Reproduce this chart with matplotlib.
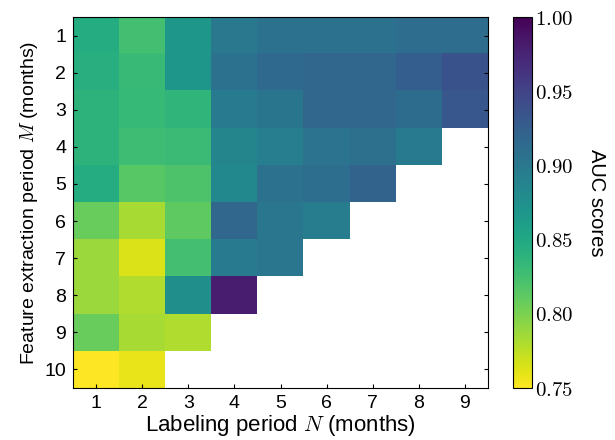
#!/usr/bin/env python3
import numpy as np
import matplotlib
matplotlib.use("Agg")
import matplotlib.pyplot as plt
from matplotlib.ticker import FuncFormatter

plt.rcParams['font.family'] = ['Liberation Sans', 'DejaVu Sans']
plt.rcParams['mathtext.fontset'] = 'cm'

# labeling period N (columns) and feature extraction period M (rows)
labelingN = [1, 2, 3, 4, 5, 6, 7, 8, 9]
featureM = [1, 2, 3, 4, 5, 6, 7, 8, 9, 10]

# AUC scores, one list per M (row), starting at N=1
auc_rows = [
    [0.845, 0.825, 0.868, 0.900, 0.907, 0.906, 0.906, 0.911, 0.911],
    [0.843, 0.832, 0.868, 0.907, 0.915, 0.917, 0.917, 0.925, 0.937],
    [0.838, 0.833, 0.836, 0.896, 0.903, 0.917, 0.917, 0.912, 0.932],
    [0.838, 0.828, 0.830, 0.886, 0.893, 0.905, 0.908, 0.897],
    [0.845, 0.815, 0.820, 0.883, 0.906, 0.910, 0.920],
    [0.808, 0.783, 0.812, 0.917, 0.902, 0.895],
    [0.788, 0.763, 0.825, 0.897, 0.902],
    [0.788, 0.780, 0.875, 0.980],
    [0.808, 0.783, 0.780],
    [0.750, 0.758],
]

def buildGrid(rows, ncols):
    grid = np.full((len(rows), ncols), np.nan)
    for i, row in enumerate(rows):
        grid[i, :len(row)] = row
    return np.ma.masked_invalid(grid)

def main():
    grid = buildGrid(auc_rows, len(labelingN))
    fig = plt.figure(figsize=(6.15, 4.4), dpi=100)
    ax = fig.add_axes([73/615, 1-388/440, 415/615, 371/440])
    cax = fig.add_axes([513/615, 1-388/440, 19/615, 371/440])

    im = ax.imshow(grid, cmap='viridis_r', vmin=0.75, vmax=1.0, aspect='auto',
                   interpolation='none',
                   extent=[labelingN[0]-0.5, labelingN[-1]+0.5,
                           featureM[-1]+0.5, featureM[0]-0.5])
    ax.set_xticks(labelingN)
    ax.set_yticks(featureM)
    ax.tick_params(direction='in', right=True, labelsize=14, length=3, pad=5)
    ax.set_xlabel(r"Labeling period $N$ (months)", fontsize=16, labelpad=1)
    ax.set_ylabel(r"Feature extraction period $M$ (months)", fontsize=14, labelpad=3)

    cb = fig.colorbar(im, cax=cax, ticks=[0.75, 0.80, 0.85, 0.90, 0.95, 1.00])
    cb.ax.yaxis.set_major_formatter(FuncFormatter(lambda v, p: r"$%.2f$" % v))
    cb.ax.tick_params(direction='in', labelsize=15, length=0, pad=2)
    cb.outline.set_linewidth(0.8)
    cb.set_label("AUC scores", rotation=270, fontsize=14.5, labelpad=24)

    fig.savefig("out.png", dpi=100)

if __name__ == '__main__':
    main()
